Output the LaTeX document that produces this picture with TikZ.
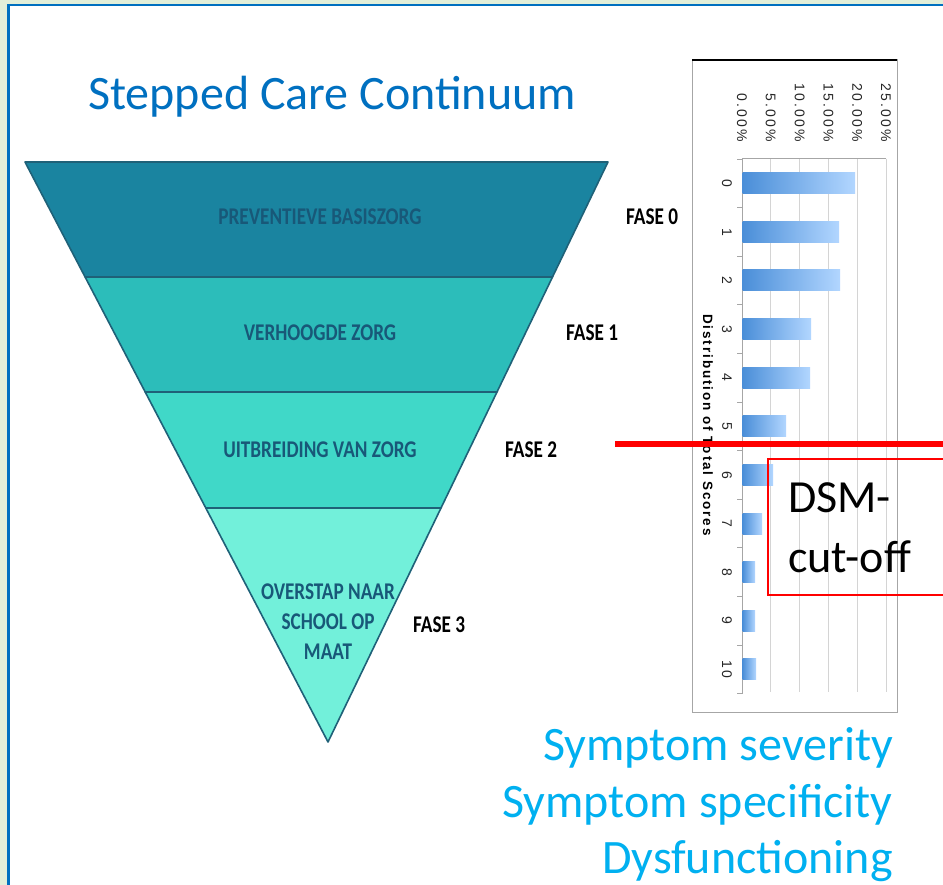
\documentclass[tikz,border=0pt]{standalone}
\usepackage{fontspec}
\setmainfont{Carlito}
\newfontfamily\chartfont[LetterSpace=15.0]{Liberation Sans}
\newfontfamily\charttitlefont[LetterSpace=14.0]{Liberation Sans Bold}
\definecolor{bggreen}{HTML}{E2EFD9}
\definecolor{frameblue}{HTML}{0070C0}
\definecolor{titleblue}{HTML}{0070C0}
\definecolor{lightblue}{HTML}{00B0F0}
\definecolor{bandA}{HTML}{1A84A0}
\definecolor{bandB}{HTML}{2CBDBA}
\definecolor{bandC}{HTML}{40D8C8}
\definecolor{bandD}{HTML}{72F0DA}
\definecolor{bandline}{HTML}{1F6178}
\definecolor{bandtext}{HTML}{185878}
\definecolor{barleft}{HTML}{4A8ED8}
\definecolor{barright}{HTML}{B2D6FF}
\definecolor{gridgray}{HTML}{D4D4D4}
\definecolor{axisgray}{HTML}{A6A6A6}
\begin{document}
\begin{tikzpicture}[x=1pt,y=-1pt,
  band/.style={draw=bandline, line width=1.6pt, line join=round},
  bandlabel/.style={text=bandtext, font=\fontsize{24}{26}\selectfont\bfseries, align=center, inner sep=0pt},
  faselabel/.style={text=black, font=\fontsize{24}{26}\selectfont\bfseries, anchor=west, inner sep=0pt},
  bar/.style={left color=barleft, right color=barright, draw=none},
  gridline/.style={draw=gridgray, line width=0.9pt},
  pctlabel/.style={font=\chartfont\fontsize{14}{16}\selectfont, rotate=-90, anchor=east, inner sep=0pt, text=black!85},
  catlabel/.style={font=\fontsize{14}{16}\selectfont\chartfont, rotate=-90, inner sep=0pt, text=black!85},
  bigblue/.style={text=lightblue, font=\fontsize{48}{57}\selectfont, anchor=base east, inner sep=0pt}
]
\useasboundingbox (0,0) rectangle (943,885);
% background and frame
\fill[bggreen] (0,0) rectangle (943,885);
\fill[white] (8.5,5) rectangle (960,900);
\draw[frameblue, line width=2.6pt] (8.5,900) -- (8.5,5) -- (960,5);

% title
\node[text=titleblue, font=\fontsize{48}{56}\selectfont, anchor=base west, inner sep=0pt] (title) at (88,110) {Stepped Care Continuum};

% triangle bands
\coordinate (TL) at (25,162);
\coordinate (TR) at (608,162);
\coordinate (L1) at (85.1,277);
\coordinate (R1) at (552.5,277);
\coordinate (L2) at (145.2,392);
\coordinate (R2) at (497,392);
\coordinate (L3) at (205.8,508);
\coordinate (R3) at (441,508);
\coordinate (AP) at (328,742);
\filldraw[band, fill=bandA] (TL) -- (TR) -- (R1) -- (L1) -- cycle;
\filldraw[band, fill=bandB] (L1) -- (R1) -- (R2) -- (L2) -- cycle;
\filldraw[band, fill=bandC] (L2) -- (R2) -- (R3) -- (L3) -- cycle;
\filldraw[band, fill=bandD] (L3) -- (R3) -- (AP) -- cycle;

\node[bandlabel] (b0) at (320,217) {\scalebox{0.8}[1]{PREVENTIEVE BASISZORG}};
\node[bandlabel] (b1) at (320,333) {\scalebox{0.8}[1]{VERHOOGDE ZORG}};
\node[bandlabel] (b2) at (320,450) {\scalebox{0.8}[1]{UITBREIDING VAN ZORG}};
\node[bandlabel] (b3a) at (328,592) {\scalebox{0.8}[1]{OVERSTAP NAAR}};
\node[bandlabel] (b3b) at (328,622) {\scalebox{0.8}[1]{SCHOOL OP}};
\node[bandlabel] (b3c) at (328,652) {\scalebox{0.8}[1]{MAAT}};

\node[faselabel] (f0) at (626,217) {\scalebox{0.8}[1]{FASE 0}};
\node[faselabel] (f1) at (566,333) {\scalebox{0.8}[1]{FASE 1}};
\node[faselabel] (f2) at (505,450) {\scalebox{0.8}[1]{FASE 2}};
\node[faselabel] (f3) at (413,625) {\scalebox{0.8}[1]{FASE 3}};

% chart frame
\draw[axisgray, line width=1pt] (692,60) rectangle (897,712);
\draw[black, line width=1.4pt] (692,60) -- (897,60);

% gridlines and percent labels
\foreach \k/\lab in {0/0.00\%,1/5.00\%,2/10.00\%,3/15.00\%,4/20.00\%,5/25.00\%}{
  \pgfmathsetmacro{\gx}{742+28.8*\k}
  \draw[gridline] (\gx,159) -- (\gx,692);
  \node[pctlabel] (pct\k) at (\gx,142) {\lab};
}
% axes
\draw[axisgray, line width=1pt] (742,159) -- (886,159);
\draw[axisgray, line width=1pt] (742,159) -- (742,694);
\foreach \j in {0,...,11}{
  \pgfmathsetmacro{\ty}{159+48.6*\j}
  \draw[axisgray, line width=0.8pt] (737,\ty) -- (742,\ty);
}
% bars
\foreach \i/\e in {0/855,1/839,2/840,3/811,4/810,5/786,6/773,7/762,8/755,9/755,10/756}{
  \pgfmathsetmacro{\cy}{183.3+48.6*\i}
  \shade[bar] (742.5,\cy-10.5) rectangle (\e,\cy+10.5);
  \node[catlabel] (cat\i) at (727,\cy) {\i};
}
\node[font=\charttitlefont\fontsize{13.5}{15}\selectfont, rotate=-90, inner sep=0pt] (axtitle) at (708,425) {Distribution of Total Scores};

% DSM cut-off
\coordinate (redA) at (615,444);
\coordinate (redB) at (943,444);
\draw[red, line width=6.5pt] (redA) -- (redB);
\draw[red, line width=1.1pt] (768,459) rectangle (960,595);
\node[font=\fontsize{46}{50}\selectfont, anchor=base west, inner sep=0pt] (dsm1) at (788,512) {DSM-};
\node[font=\fontsize{46}{50}\selectfont, anchor=base west, inner sep=0pt] (dsm2) at (788,572) {cut-off};

% bottom texts
\node[bigblue] (s1) at (893,760) {Symptom severity};
\node[bigblue] (s2) at (893,817) {Symptom specificity};
\node[bigblue] (s3) at (893,873) {Dysfunctioning};
\end{tikzpicture}
\end{document}
